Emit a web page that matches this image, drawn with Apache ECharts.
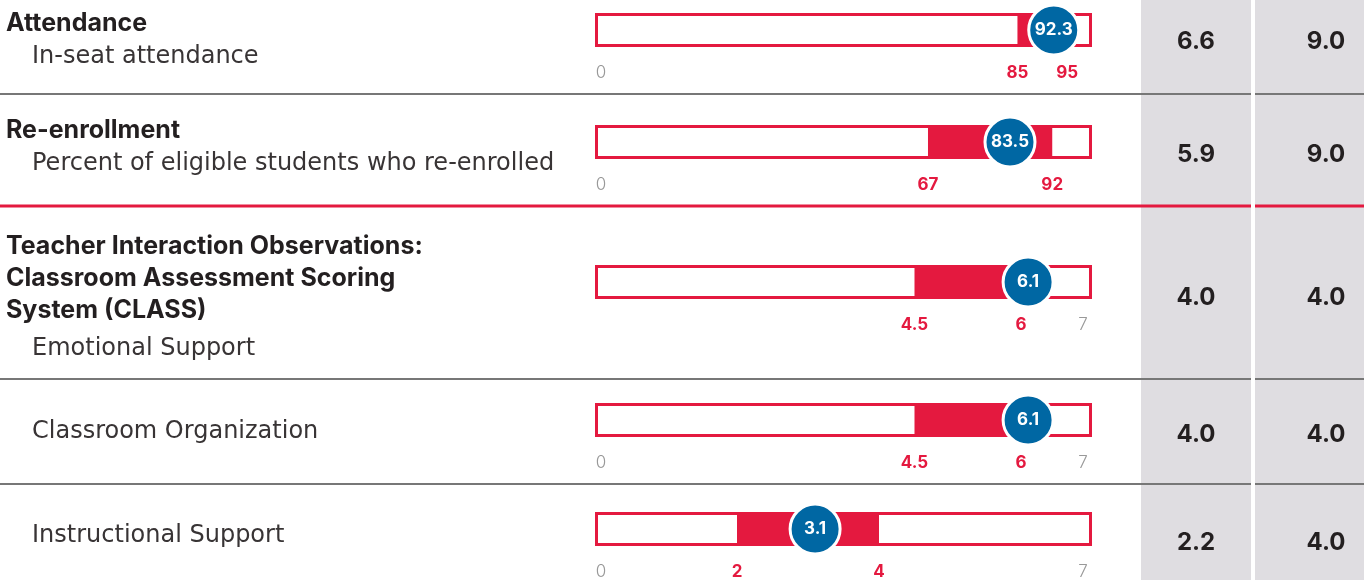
<!DOCTYPE html>
<html>
<head>
<meta charset="utf-8">
<script src="https://cdn.jsdelivr.net/npm/echarts@6/dist/echarts.min.js"></script>
<style>
  html, body { margin: 0; padding: 0; background: #fff; }
  #main { width: 1364px; height: 580px; }
</style>
</head>
<body>
<div id="main"></div>
<script>
// 数据
const metrics = ['In-seat attendance', 'Percent of eligible students who re-enrolled', 'Emotional Support', 'Classroom Organization', 'Instructional Support']
const scores = [92.3, 83.5, 6.1, 6.1, 3.1]
const lowTargets = [85, 67, 4.5, 4.5, 2]
const highTargets = [95, 92, 6, 6, 4]
const scaleMax = [100, 100, 7, 7, 7]
const tickLabels = [[0, 85, 95], [0, 67, 92], [4.5, 6, 7], [0, 4.5, 6, 7], [0, 2, 4, 7]]
const colA = ['6.6', '5.9', '4.0', '4.0', '2.2']
const colB = ['9.0', '9.0', '4.0', '4.0', '4.0']
const headings = [['Attendance'], ['Re-enrollment'], ['Teacher Interaction Observations:', 'Classroom Assessment Scoring', 'System (CLASS)'], [], []]

// 布局
const FONT = 'Inter, "Noto Sans", sans-serif'
const LIGHT_FONT = '"DejaVu Sans", "Noto Sans", sans-serif'
const RED = '#e4193f'
const BLUE = '#0067a3'
const DARK = '#231f20'
const trackTop = [13, 125, 265, 403, 512]
const trackH = 34
const headingY = [23, 130, 246, 0, 0]
const metricY = [57, 164, 349, 432, 536]
const valueY = [42, 155, 298, 435, 543]
const separators = [
  { y: 94, color: '#777', w: 2 },
  { y: 206, color: RED, w: 3 },
  { y: 379, color: '#777', w: 2 },
  { y: 484, color: '#777', w: 2 }
]

const chart = echarts.init(document.getElementById('main'))

const grid = []
const xAxis = []
const yAxis = []
const series = []

metrics.forEach((name, i) => {
  grid.push({ left: 595, width: 497, top: trackTop[i], height: trackH })
  xAxis.push({
    gridIndex: i,
    type: 'value',
    min: 0,
    max: scaleMax[i],
    axisLine: { show: false },
    axisTick: { show: false },
    splitLine: { show: false },
    axisLabel: {
      customValues: tickLabels[i],
      margin: 17,
      formatter: (v) => {
        if (v === lowTargets[i] || v === highTargets[i]) return '{r|' + v + '}'
        if (v === 0) return '{z|' + v + '}'
        return '{m|' + v + '}'
      },
      rich: {
        r: { color: RED, fontWeight: 'bold', fontSize: 17, fontFamily: FONT },
        z: { color: '#999', fontWeight: 300, fontSize: 17, fontFamily: FONT, padding: [0, 0, 0, 12] },
        m: { color: '#999', fontWeight: 300, fontSize: 17, fontFamily: FONT, padding: [0, 18, 0, 0] }
      }
    }
  })
  yAxis.push({ gridIndex: i, type: 'category', data: [name], show: false })

  // 底框
  series.push({
    type: 'bar',
    xAxisIndex: i,
    yAxisIndex: i,
    data: [scaleMax[i]],
    barWidth: trackH,
    barGap: '-100%',
    silent: true,
    z: 1,
    itemStyle: { color: '#fff', borderColor: RED, borderWidth: 3 }
  })
  // 目标区间 - 透明底
  series.push({
    type: 'bar',
    xAxisIndex: i,
    yAxisIndex: i,
    stack: 'band' + i,
    data: [lowTargets[i]],
    barWidth: trackH,
    barGap: '-100%',
    silent: true,
    z: 2,
    itemStyle: { color: 'transparent' }
  })
  series.push({
    type: 'bar',
    xAxisIndex: i,
    yAxisIndex: i,
    stack: 'band' + i,
    data: [highTargets[i] - lowTargets[i]],
    barWidth: trackH,
    barGap: '-100%',
    silent: true,
    z: 2,
    itemStyle: { color: RED }
  })
  // 得分圆点
  series.push({
    type: 'scatter',
    xAxisIndex: i,
    yAxisIndex: i,
    data: [[scores[i], 0]],
    symbolSize: 50,
    silent: true,
    z: 5,
    itemStyle: { color: BLUE, borderColor: '#fff', borderWidth: 3, opacity: 1 },
    label: {
      show: true,
      position: 'inside',
      formatter: () => scores[i].toFixed(1),
      color: '#fff',
      fontWeight: 'bold',
      fontSize: 17,
      fontFamily: FONT
    }
  })
})

// 左侧文字、灰色列、分隔线
const graphic = []
graphic.push({ type: 'rect', shape: { x: 1141, y: 0, width: 110, height: 580 }, style: { fill: '#dfdde1' }, z: 0 })
graphic.push({ type: 'rect', shape: { x: 1255, y: 0, width: 109, height: 580 }, style: { fill: '#dfdde1' }, z: 0 })
separators.forEach((s) => {
  graphic.push({ type: 'line', shape: { x1: 0, y1: s.y, x2: 1364, y2: s.y }, style: { stroke: s.color, lineWidth: s.w }, z: 1 })
})
graphic.push({ type: 'rect', shape: { x: 1251, y: 0, width: 4, height: 580 }, style: { fill: '#fff' }, z: 2 })

headings.forEach((lines, i) => {
  lines.forEach((t, k) => {
    graphic.push({
      type: 'text',
      x: 6,
      y: headingY[i] + k * 32,
      style: { text: t, fill: DARK, font: 'bold 25px ' + FONT, verticalAlign: 'middle' },
      z: 3
    })
  })
})
metrics.forEach((t, i) => {
  graphic.push({
    type: 'text',
    x: 32,
    y: metricY[i],
    style: { text: t, fill: '#383435', font: '24px ' + LIGHT_FONT, verticalAlign: 'middle' },
    z: 3
  })
  graphic.push({
    type: 'text',
    x: 1196,
    y: valueY[i],
    style: { text: colA[i], fill: DARK, font: 'bold 24px ' + FONT, align: 'center', verticalAlign: 'middle' },
    z: 3
  })
  graphic.push({
    type: 'text',
    x: 1326,
    y: valueY[i],
    style: { text: colB[i], fill: DARK, font: 'bold 24px ' + FONT, align: 'center', verticalAlign: 'middle' },
    z: 3
  })
})

chart.setOption({
  animation: false,
  grid,
  xAxis,
  yAxis,
  series,
  graphic
})
</script>
</body>
</html>
